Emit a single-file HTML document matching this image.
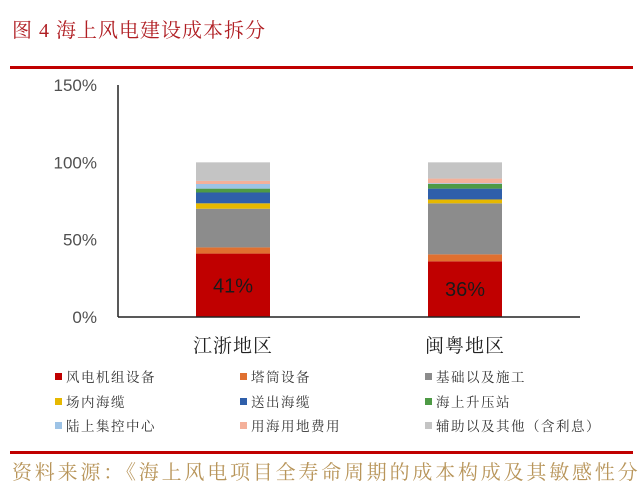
<!DOCTYPE html>
<html><head><meta charset="utf-8">
<style>
body{margin:0;background:#fff;width:641px;height:480px;overflow:hidden;position:relative;font-family:"Liberation Serif","Noto Serif CJK SC",serif}
.abs{position:absolute}
</style></head>
<body>
<div class="abs" style="left:12px;top:14px;font-size:20px;color:#b01e23;letter-spacing:1px;white-space:nowrap">图 4 海上风电建设成本拆分</div>
<div class="abs" style="left:10px;top:66px;width:623px;height:3px;background:#c00000"></div>
<svg class="abs" style="left:0;top:0" width="641" height="480" id="chart"></svg>
<div class="abs" style="left:10px;top:451px;width:623px;height:3px;background:#c00000"></div>
<div class="abs" style="left:12px;top:456px;font-size:20px;color:#b8955a;white-space:nowrap;letter-spacing:2.8px">资料来源：《海上风电项目全寿命周期的成本构成及其敏感性分</div>
<script>
const categories=["江浙地区","闽粤地区"];
const seriesNames=["风电机组设备","塔筒设备","基础以及施工","场内海缆","送出海缆","海上升压站","陆上集控中心","用海用地费用","辅助以及其他（含利息）"];
const seriesColors=["#c00000","#e07030","#8c8c8c","#e6b800","#2f5faa","#4e9a45","#9dc3e6","#f4b09a","#c4c4c4"];
const jiangzhe=[41,4,25,3.5,7,2.5,3,2,12];
const minyue=[36,4.5,33,2.5,7,3,0.5,3,10.5];
const seriesData=[jiangzhe,minyue];
const yTicks=[0,50,100,150];
const labelValues=["41%","36%"];

const svg=document.getElementById('chart');
const NS="http://www.w3.org/2000/svg";
const x0=118,x1=580,yBase=317,yTop=85;
const y=v=>yBase-(v/150)*(yBase-yTop);
const centers=[233,465],bw=74;
function mk(t,a){const e=document.createElementNS(NS,t);for(const k in a)e.setAttribute(k,a[k]);svg.appendChild(e);return e;}
yTicks.forEach(t=>{
 const e=mk('text',{x:97,y:y(t)+6,'text-anchor':'end','font-size':17,fill:'#505050','font-family':'Liberation Sans,sans-serif'});
 e.textContent=t+'%';
 
 
});
categories.forEach((c,i)=>{
 let acc=0;
 seriesData[i].forEach((v,j)=>{
  const r=mk('rect',{x:centers[i]-bw/2,y:y(acc+v),width:bw,height:y(acc)-y(acc+v),fill:seriesColors[j]});
  
  
  acc+=v;
 });
 const l=mk('text',{x:centers[i],y:y(seriesData[i][0]/2)+7,'text-anchor':'middle','font-size':20,fill:'#1a1a1a','font-family':'Liberation Sans,sans-serif'});
 l.textContent=labelValues[i];
 
 
 const cl=mk('text',{x:centers[i],y:352,'text-anchor':'middle','font-size':19,fill:'#222','font-family':'Liberation Serif,Noto Serif CJK SC,serif','letter-spacing':1});
 cl.textContent=c;
 
 
});
const ya=mk('line',{x1:x0,y1:yTop,x2:x0,y2:yBase,stroke:'#222','stroke-width':1.5});


const xa=mk('line',{x1:x0,y1:yBase,x2:x1,y2:yBase,stroke:'#222','stroke-width':1.5});


const colX=[55,240,425],rowY=[377,402,426];
seriesNames.forEach((n,j)=>{
 const cx=colX[j%3],cy=rowY[Math.floor(j/3)];
 const m=mk('rect',{x:cx,y:cy-4,width:7,height:7,fill:seriesColors[j]});
 
 
 const t=mk('text',{x:cx+11,y:cy+5,'font-size':13.5,fill:'#333','font-family':'Liberation Serif,Noto Serif CJK SC,serif','letter-spacing':1.5});
 t.textContent=n;
 
 
});
</script>
</body></html>
